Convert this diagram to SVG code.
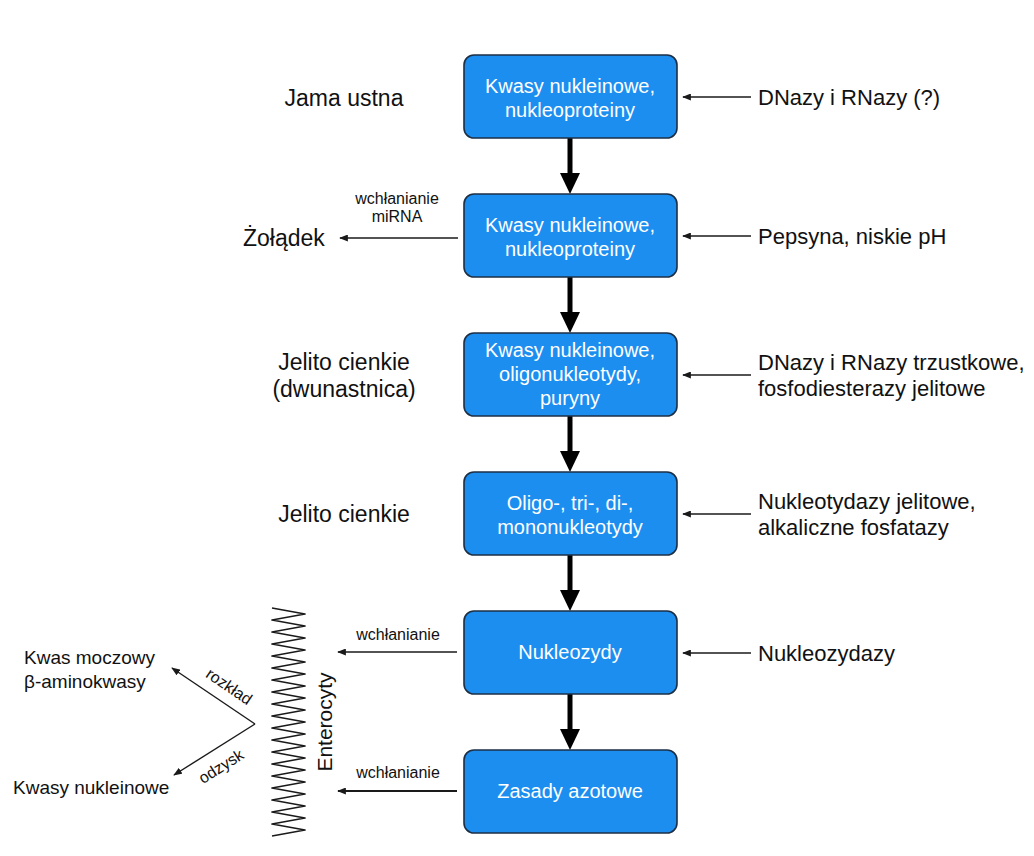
<svg xmlns="http://www.w3.org/2000/svg" width="1034" height="856" viewBox="0 0 1034 856">
<defs>
<style>
.box{fill:#1b8ef0;stroke:#1d2f45;stroke-width:1.6}
.bt{font-family:"Liberation Sans",Arial,sans-serif;font-size:20px;fill:#ffffff;text-anchor:middle}
.lbl{font-family:"Liberation Sans",Arial,sans-serif;font-size:22px;fill:#111111}
.ll{font-size:23px}
.sm{font-family:"Liberation Sans",Arial,sans-serif;font-size:16px;fill:#111111}
.mid{text-anchor:middle}
.thin{stroke:#1a1a1a;stroke-width:1.4;fill:none;marker-end:url(#ah)}
.thick{stroke:#000000;stroke-width:5;fill:none}
.head{fill:#000000}
</style>
<marker id="ah" viewBox="0 0 10 8" refX="9" refY="4" markerWidth="9" markerHeight="7" markerUnits="userSpaceOnUse" orient="auto">
<path d="M0,0 L10,4 L0,8 Z" fill="#1a1a1a"/>
</marker>
</defs>
<rect width="1034" height="856" fill="#ffffff"/>

<g id="connectors">
<line class="thick" x1="570" y1="138" x2="570" y2="176"/><polygon class="head" points="560,173 580,173 570,194"/>
<line class="thick" x1="570" y1="277" x2="570" y2="315"/><polygon class="head" points="560,312 580,312 570,333"/>
<line class="thick" x1="570" y1="416" x2="570" y2="454"/><polygon class="head" points="560,451 580,451 570,472"/>
<line class="thick" x1="570" y1="555" x2="570" y2="593"/><polygon class="head" points="560,590 580,590 570,611"/>
<line class="thick" x1="570" y1="694" x2="570" y2="732"/><polygon class="head" points="560,729 580,729 570,750"/>
<line class="thin" x1="751" y1="97" x2="683" y2="97"/>
<line class="thin" x1="751" y1="236" x2="683" y2="236"/>
<line class="thin" x1="751" y1="375" x2="683" y2="375"/>
<line class="thin" x1="751" y1="514" x2="683" y2="514"/>
<line class="thin" x1="751" y1="653" x2="683" y2="653"/>
<line class="thin" x1="458" y1="238" x2="340" y2="238"/>
<line class="thin" x1="457" y1="652" x2="338" y2="652"/>
<line class="thin" x1="457" y1="791" x2="338" y2="791" style="stroke-width:2"/>
<line class="thin" x1="255" y1="724" x2="172" y2="668"/>
<line class="thin" x1="255" y1="724" x2="174" y2="775"/>
</g>

<g id="n1"><rect class="box" x="464" y="55" width="213" height="83" rx="10"/>
<text class="bt" x="570" y="93">Kwasy nukleinowe,</text><text class="bt" x="570" y="117">nukleoproteiny</text></g>
<g id="n2"><rect class="box" x="464" y="194" width="213" height="83" rx="10"/>
<text class="bt" x="570" y="232">Kwasy nukleinowe,</text><text class="bt" x="570" y="256">nukleoproteiny</text></g>
<g id="n3"><rect class="box" x="464" y="333" width="213" height="83" rx="10"/>
<text class="bt" x="570" y="357">Kwasy nukleinowe,</text><text class="bt" x="570" y="381">oligonukleotydy,</text><text class="bt" x="570" y="405">puryny</text></g>
<g id="n4"><rect class="box" x="464" y="472" width="213" height="83" rx="10"/>
<text class="bt" x="570" y="510">Oligo-, tri-, di-,</text><text class="bt" x="570" y="534">mononukleotydy</text></g>
<g id="n5"><rect class="box" x="464" y="611" width="213" height="83" rx="10"/>
<text class="bt" x="570" y="659">Nukleozydy</text></g>
<g id="n6"><rect class="box" x="464" y="750" width="213" height="83" rx="10"/>
<text class="bt" x="570" y="798">Zasady azotowe</text></g>

<g id="right-labels">
<text class="lbl" x="758" y="105">DNazy i RNazy (?)</text>
<text class="lbl" x="758" y="244">Pepsyna, niskie pH</text>
<text class="lbl" x="758" y="370">DNazy i RNazy trzustkowe,</text>
<text class="lbl" x="758" y="396">fosfodiesterazy jelitowe</text>
<text class="lbl" x="758" y="509">Nukleotydazy jelitowe,</text>
<text class="lbl" x="758" y="535">alkaliczne fosfatazy</text>
<text class="lbl" x="758" y="661">Nukleozydazy</text>
</g>

<g id="left-labels">
<text class="lbl ll mid" x="344" y="106">Jama ustna</text>
<text class="lbl ll" x="243" y="246">Żołądek</text>
<text class="sm mid" x="397" y="204">wchłanianie</text>
<text class="sm mid" x="397" y="222">miRNA</text>
<text class="lbl ll mid" x="344" y="370">Jelito cienkie</text>
<text class="lbl ll mid" x="344" y="397">(dwunastnica)</text>
<text class="lbl ll mid" x="344" y="522">Jelito cienkie</text>
<text class="sm mid" x="398" y="640">wchłanianie</text>
<text class="sm mid" x="398" y="778">wchłanianie</text>
</g>

<g id="enterocytes">
<polyline fill="none" stroke="#1a1a1a" stroke-width="1.6" stroke-linejoin="round" points="272,608 305,614 272,620 305,626 272,632 305,638 272,644 305,650 272,656 305,662 272,668 305,674 272,680 305,686 272,692 305,698 272,704 305,710 272,716 305,722 272,728 305,734 272,740 305,746 272,752 305,758 272,764 305,770 272,776 305,782 272,788 305,794 272,800 305,806 272,812 305,818 272,824 305,830 272,836"/>
<text class="lbl mid" x="0" y="0" transform="translate(332,722) rotate(-90)" style="font-size:21px">Enterocyty</text>
</g>

<g id="fate-labels">
<text class="lbl" x="24" y="664" style="font-size:19px">Kwas moczowy</text>
<text class="lbl" x="24" y="688" style="font-size:19px">β-aminokwasy</text>
<text class="lbl" x="13" y="794" style="font-size:19px">Kwasy nukleinowe</text>
<text class="sm mid" x="0" y="0" transform="translate(226,691) rotate(34)" style="font-size:16px">rozkład</text>
<text class="sm mid" x="0" y="0" transform="translate(224,771) rotate(-32.5)" style="font-size:16px">odzysk</text>
</g>
</svg>
